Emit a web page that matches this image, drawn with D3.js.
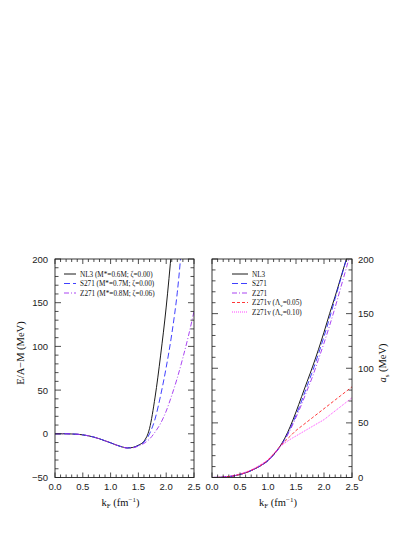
<!DOCTYPE html>
<html lang="en">
<head>
<meta charset="utf-8">
<title>E/A-M and symmetry energy</title>
<script src="https://cdn.jsdelivr.net/npm/d3@7"></script>
<style>
  body { margin: 0; background: #fff; }
  svg { display: block; }
  .tick-label { font-family: 'Liberation Sans', Arial, sans-serif; font-size: 9.5px; fill: #222; }
  .title { font-family: 'Liberation Serif', 'Times New Roman', serif; font-size: 10.5px; fill: #111; }
  .legend { font-family: 'Liberation Serif', 'Times New Roman', serif; font-size: 7.2px; fill: #111; }
</style>
</head>
<body>
<script>

/* Data */
/* ========================= */

var kF = [0.0, 0.1, 0.2, 0.3, 0.4, 0.5, 0.6, 0.7, 0.8, 0.9, 1.0, 1.1, 1.2, 1.3, 1.4,
          1.5, 1.6, 1.7, 1.8, 1.9, 2.0, 2.1, 2.2, 2.3, 2.4, 2.5];

// left panel: E/A - M (MeV)
var eaNL3  = [0, 0, 0, -0.2, -0.5, -1.2, -2.3, -3.8, -5.7, -8.0, -10.3, -12.8, -14.9, -16.2, -15.6,
              -13.0, -8.5, 6, 42, 90, 145, 213, 290, 370, 460, 560];
var eaS271 = [0, 0, 0, -0.2, -0.5, -1.2, -2.3, -3.8, -5.7, -8.0, -10.3, -12.8, -14.9, -16.2, -15.8,
              -13.5, -9.5, 0, 17, 44, 76, 114, 162, 230, 300, 380];
var eaZ271 = [0, 0, 0, -0.2, -0.5, -1.2, -2.3, -3.8, -5.7, -8.0, -10.3, -12.8, -14.9, -16.2, -16.0,
              -14.0, -11.0, -6, 2, 12, 26, 44, 64, 87, 112, 140];

// right panel: symmetry energy a_s (MeV)
var asNL3    = [0, 0.1, 0.3, 0.8, 1.6, 2.8, 4.3, 6.3, 8.8, 11.8, 15.5, 21, 27.5, 36, 47,
                60, 74, 88, 102, 117, 133, 150, 166, 183, 200, 217];
var asS271   = [0, 0.1, 0.3, 0.8, 1.6, 2.8, 4.3, 6.3, 8.8, 11.8, 15.3, 20.5, 27, 35, 45,
                57, 70, 84, 98, 113, 129, 146, 164, 182, 200, 218];
var asZ271   = [0, 0.1, 0.3, 0.8, 1.6, 2.8, 4.3, 6.3, 8.8, 11.8, 15.3, 20.5, 27, 34.5, 44,
                55, 67, 80, 93, 108, 123, 139, 156, 174, 192, 211];
var asZ271v5 = [0, 0.1, 0.3, 0.9, 1.7, 2.9, 4.5, 6.6, 9.2, 12.3, 16, 21.5, 27.5, 33, 38,
                43, 47, 51, 55, 59, 63, 67, 71, 75, 79, 83];
var asZ271v10= [0, 0.2, 0.5, 1.1, 2.0, 3.3, 5.0, 7.1, 9.7, 12.8, 16.5, 21.8, 27.5, 31.5, 35,
                38, 41, 44, 47, 50, 53, 57, 61, 65, 69, 73];

var xTicks = [0.0, 0.5, 1.0, 1.5, 2.0, 2.5];
var yTicksLeft = [-50, 0, 50, 100, 150, 200];
var yTicksRight = [0, 50, 100, 150, 200];

var leftLabels = ['NL3  (M*=0.6M; \u03B6=0.00)', 'S271 (M*=0.7M; \u03B6=0.00)', 'Z271 (M*=0.8M; \u03B6=0.06)'];
var rightLabels = ['NL3', 'S271', 'Z271', 'Z271v (\u039B', 'Z271v (\u039B'];


/* Set up svg */
/* ========== */

var width = 415, height = 537;

var svg = d3.select('body').append('svg')
  .attr('width', width)
  .attr('height', height);

var styles = [
  { color: '#000000', dash: null,      width: 0.9 },
  { color: '#2a2aff', dash: '6,3',     width: 0.9 },
  { color: '#a030f0', dash: '5,2,1,2', width: 0.9 },
  { color: '#ff2020', dash: '3,2',     width: 0.9 },
  { color: '#ff30ff', dash: '1,1',     width: 0.9 }
];

var panels = [
  { x0: 55,  x1: 194, y0: 259, y1: 477.5, yDomain: [-50, 200], yTicks: yTicksLeft,  labelSide: 'left',
    series: [eaNL3, eaS271, eaZ271], legend: leftLabels, legX: 64, legLen: 12 },
  { x0: 212, x1: 352, y0: 259, y1: 477.5, yDomain: [0, 200],   yTicks: yTicksRight, labelSide: 'right',
    series: [asNL3, asS271, asZ271, asZ271v5, asZ271v10], legend: rightLabels, legX: 232, legLen: 16 }
];


/* Draw panels */
/* =========== */

panels.forEach(function(p, pi) {

  var x = d3.scaleLinear().domain([0, 2.5]).range([p.x0, p.x1]);
  var y = d3.scaleLinear().domain(p.yDomain).range([p.y1, p.y0]);

  var g = svg.append('g');

  // clip
  var clipId = 'clip' + pi;
  svg.append('clipPath').attr('id', clipId)
    .append('rect')
    .attr('x', p.x0).attr('y', p.y0)
    .attr('width', p.x1 - p.x0).attr('height', p.y1 - p.y0);

  // curves
  var line = d3.line()
    .x(function(d, i) { return x(kF[i]); })
    .y(function(d) { return y(d); })
    .curve(d3.curveMonotoneX);

  p.series.forEach(function(s, i) {
    g.append('path')
      .attr('clip-path', 'url(#' + clipId + ')')
      .attr('d', line(s))
      .attr('fill', 'none')
      .attr('stroke', styles[i].color)
      .attr('stroke-width', styles[i].width)
      .attr('stroke-dasharray', styles[i].dash);
  });

  // frame
  g.append('rect')
    .attr('x', p.x0).attr('y', p.y0)
    .attr('width', p.x1 - p.x0).attr('height', p.y1 - p.y0)
    .attr('fill', 'none').attr('stroke', '#222').attr('stroke-width', 0.9);

  // x ticks, top and bottom, inward
  var xMinor = d3.range(0, 2.5001, 0.1);
  xMinor.forEach(function(v) {
    var major = xTicks.some(function(t) { return Math.abs(t - v) < 1e-6; });
    var len = major ? 5 : 3;
    g.append('line').attr('x1', x(v)).attr('x2', x(v))
      .attr('y1', p.y1).attr('y2', p.y1 - len).attr('stroke', '#222').attr('stroke-width', 0.8);
    g.append('line').attr('x1', x(v)).attr('x2', x(v))
      .attr('y1', p.y0).attr('y2', p.y0 + len).attr('stroke', '#222').attr('stroke-width', 0.8);
  });

  // y ticks, left and right, inward
  var yMinor = d3.range(p.yDomain[0], p.yDomain[1] + 0.01, 10);
  yMinor.forEach(function(v) {
    var major = p.yTicks.indexOf(v) >= 0;
    var len = major ? 6 : 3.5;
    g.append('line').attr('x1', p.x0).attr('x2', p.x0 + len)
      .attr('y1', y(v)).attr('y2', y(v)).attr('stroke', '#222').attr('stroke-width', 0.8);
    g.append('line').attr('x1', p.x1).attr('x2', p.x1 - len)
      .attr('y1', y(v)).attr('y2', y(v)).attr('stroke', '#222').attr('stroke-width', 0.8);
  });

  // x tick labels
  g.selectAll('.xl').data(xTicks).enter().append('text')
    .attr('class', 'tick-label')
    .attr('x', function(d) { return x(d); })
    .attr('y', p.y1 + 12)
    .attr('text-anchor', 'middle')
    .text(function(d) { return d.toFixed(1); });

  // y tick labels
  g.selectAll('.yl').data(p.yTicks).enter().append('text')
    .attr('class', 'tick-label')
    .attr('x', p.labelSide === 'left' ? p.x0 - 7 : p.x1 + 6)
    .attr('y', function(d) { return y(d) + 3.5; })
    .attr('text-anchor', p.labelSide === 'left' ? 'end' : 'start')
    .text(function(d) { return d < 0 ? '\u2212' + Math.abs(d) : d; });

  // x title: k_F (fm^-1)
  var xt = g.append('text').attr('class', 'title')
    .attr('x', (p.x0 + p.x1) / 2 - 4).attr('y', p.y1 + 28)
    .attr('text-anchor', 'middle');
  xt.append('tspan').text('k');
  xt.append('tspan').attr('font-size', '7px').attr('dy', 2.5).text('F');
  xt.append('tspan').attr('dy', -2.5).text(' (fm');
  xt.append('tspan').attr('font-size', '7px').attr('dy', -4).text('\u22121');
  xt.append('tspan').attr('dy', 4).text(')');

  // legend
  p.legend.forEach(function(lab, i) {
    var ly = 274 + i * 9.5;
    g.append('line')
      .attr('x1', p.legX).attr('x2', p.legX + p.legLen)
      .attr('y1', ly).attr('y2', ly)
      .attr('stroke', styles[i].color)
      .attr('stroke-width', styles[i].width)
      .attr('stroke-dasharray', styles[i].dash);
    var t = g.append('text').attr('class', 'legend')
      .attr('x', p.legX + p.legLen + 4).attr('y', ly + 2.5);
    t.append('tspan').text(lab);
    if (pi === 1 && i >= 3) {
      t.append('tspan').attr('font-size', '5px').attr('dy', 1.5).text('v');
      t.append('tspan').attr('dy', -1.5).text(i === 3 ? '=0.05)' : '=0.10)');
    }
  });

});


/* Y titles */
/* ======== */

svg.append('text').attr('class', 'title')
  .attr('transform', 'translate(24,353) rotate(-90)')
  .attr('text-anchor', 'middle')
  .text('E/A\u2212M (MeV)');

var yt = svg.append('text').attr('class', 'title')
  .attr('transform', 'translate(386,363) rotate(-90)')
  .attr('text-anchor', 'middle');
yt.append('tspan').attr('font-style', 'italic').text('a');
yt.append('tspan').attr('font-size', '7px').attr('dy', 2.5).text('s');
yt.append('tspan').attr('dy', -2.5).text(' (MeV)');

</script>
</body>
</html>
